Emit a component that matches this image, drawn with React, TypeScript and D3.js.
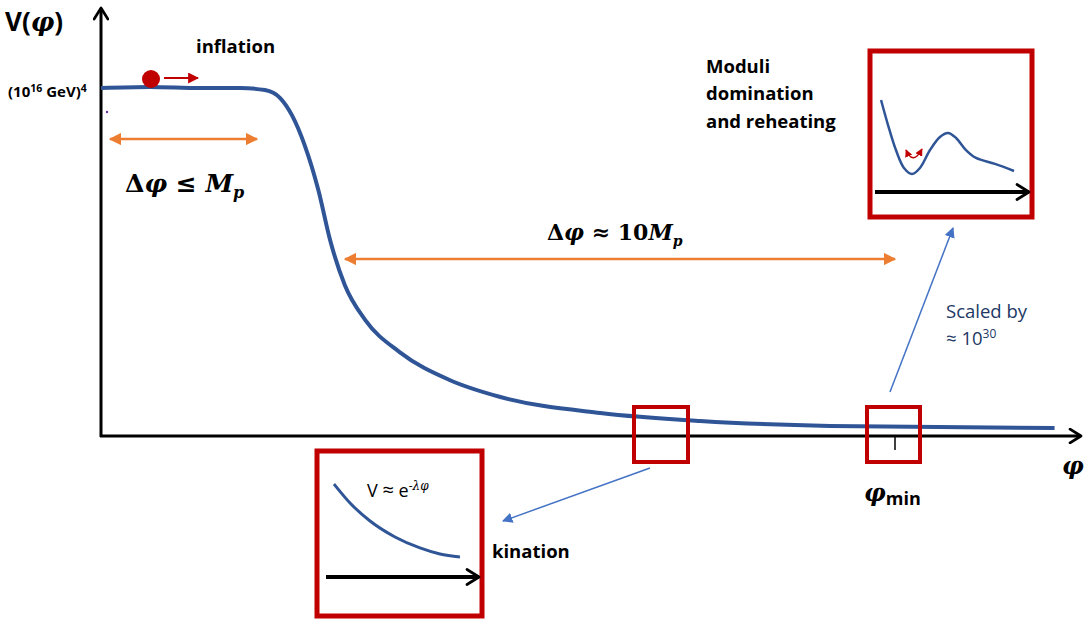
import React from 'react';
import * as d3 from 'd3';

// main potential V(phi), phi in arbitrary units, V in units of the plateau
const phi = [0, 5.0, 10.1, 14.2, 16.75, 18.3, 19.5, 20.8, 22.2, 23.4, 24.9, 27.0, 30.5, 35.6, 40.8, 51.0, 61.2, 74.5, 97.4];
const V = [1.0, 1.003, 1.0, 1.0, 0.994, 0.971, 0.922, 0.836, 0.707, 0.563, 0.434, 0.333, 0.241, 0.161, 0.112, 0.066, 0.043, 0.029, 0.023];

// moduli inset (zoomed around phi_min)
const modPhi = [0.39, 0.84, 1.35, 1.87, 2.39, 2.9, 3.55, 4.19, 4.71, 5.23, 5.87, 6.52, 7.74, 8.97];
const modV = [0.754, 0.549, 0.344, 0.197, 0.148, 0.197, 0.344, 0.451, 0.484, 0.443, 0.344, 0.279, 0.23, 0.172];

// kination inset
const kinPhi = [0.52, 1.56, 2.86, 4.48, 6.1, 7.4, 8.7];
const kinV = [0.845, 0.673, 0.509, 0.364, 0.264, 0.209, 0.182];

const BLUE = '#2F5597';
const RED = '#C00000';
const ORANGE = '#ED7D31';
const LINKBLUE = '#4472C4';
const SANS = '"Open Sans", Lato, sans-serif';
const MATH = '"DejaVu Serif", "Liberation Serif", serif';

export default function App() {
  const x = d3.scaleLinear().domain([0, 100]).range([101, 1080]);
  const y = d3.scaleLinear().domain([0, 1]).range([436, 88]);

  const mainLine = d3.line<number>()
    .x((d, i) => x(phi[i]))
    .y(d => y(d))
    .curve(d3.curveMonotoneX);

  const mx = d3.scaleLinear().domain([0, 10]).range([875, 1030]);
  const my = d3.scaleLinear().domain([0, 1]).range([192, 70]);
  const modLine = d3.line<number>()
    .x((d, i) => mx(modPhi[i]))
    .y(d => my(d))
    .curve(d3.curveCatmullRom);

  const kx = d3.scaleLinear().domain([0, 10]).range([326, 480]);
  const ky = d3.scaleLinear().domain([0, 1]).range([577, 467]);
  const kinLine = d3.line<number>()
    .x((d, i) => kx(kinPhi[i]))
    .y(d => ky(d))
    .curve(d3.curveMonotoneX);

  return (
    <svg width={1084} height={621} style={{ position: 'absolute', left: 0, top: 0, background: '#fff' }}>
      <defs>
        <marker id="orangeHead" viewBox="0 0 10 10" refX="9" refY="5" markerWidth="5" markerHeight="5" orient="auto-start-reverse" markerUnits="strokeWidth">
          <path d="M0,0 L10,5 L0,10 z" fill={ORANGE} />
        </marker>
        <marker id="redHead" viewBox="0 0 10 10" refX="9" refY="5" markerWidth="5" markerHeight="5" orient="auto-start-reverse" markerUnits="strokeWidth">
          <path d="M0,0 L10,5 L0,10 z" fill={RED} />
        </marker>
        <marker id="blueHead" viewBox="0 0 10 10" refX="9" refY="5" markerWidth="7" markerHeight="7" orient="auto" markerUnits="strokeWidth">
          <path d="M0,0 L10,5 L0,10 z" fill={LINKBLUE} />
        </marker>
        <marker id="chev" viewBox="0 0 12 12" refX="10" refY="6" markerWidth="5.5" markerHeight="5.5" orient="auto" markerUnits="strokeWidth">
          <path d="M2,1 L10,6 L2,11" fill="none" stroke="#000" strokeWidth="2" strokeLinecap="round" strokeLinejoin="round" />
        </marker>
        <marker id="chevS" viewBox="0 0 12 12" refX="10" refY="6" markerWidth="4.5" markerHeight="4.5" orient="auto" markerUnits="strokeWidth">
          <path d="M2,1 L10,6 L2,11" fill="none" stroke="#000" strokeWidth="1.8" strokeLinecap="round" strokeLinejoin="round" />
        </marker>
      </defs>

      {/* axes */}
      <line x1={101} y1={437} x2={101} y2={8} stroke="#000" strokeWidth={3} markerEnd="url(#chev)" />
      <line x1={100} y1={436} x2={1081} y2={436} stroke="#000" strokeWidth={3} markerEnd="url(#chev)" />

      <text x={5} y={31} fontFamily={SANS} fontWeight="bold" fontSize={26}>
        V(<tspan fontFamily={MATH} fontStyle="italic">φ</tspan>)
      </text>
      <text x={8} y={97} fontFamily={SANS} fontWeight="bold" fontSize={15}>
        (10<tspan fontSize={10.5} dy={-5}>16</tspan><tspan dy={5}> GeV)</tspan><tspan fontSize={10.5} dy={-5}>4</tspan>
      </text>
      <circle cx={107} cy={112} r={1.2} fill="#7030A0" />

      <text x={1062} y={474} fontFamily={MATH} fontWeight="bold" fontStyle="italic" fontSize={24}>φ</text>
      <text x={864} y={501} fontFamily={MATH} fontWeight="bold" fontStyle="italic" fontSize={24}>
        φ<tspan fontFamily={SANS} fontStyle="normal" fontSize={18} dy={4}>min</tspan>
      </text>
      <line x1={895} y1={437} x2={895} y2={450} stroke="#000" strokeWidth={1.5} />

      {/* potential */}
      <path d={mainLine(V) || ''} fill="none" stroke={BLUE} strokeWidth={4} />

      {/* inflaton ball */}
      <circle cx={151} cy={79} r={9} fill={RED} />
      <line x1={164} y1={78} x2={198} y2={78} stroke={RED} strokeWidth={2.2} markerEnd="url(#redHead)" />
      <text x={196} y={53} fontFamily={SANS} fontWeight="bold" fontSize={18.5}>inflation</text>

      {/* field ranges */}
      <line x1={110} y1={139} x2={257} y2={139} stroke={ORANGE} strokeWidth={2.5} markerStart="url(#orangeHead)" markerEnd="url(#orangeHead)" />
      <text x={125} y={192} fontFamily={MATH} fontWeight="bold" fontStyle="italic" fontSize={25}>
        <tspan fontStyle="normal">Δ</tspan>φ ≤ M<tspan fontSize={16} dy={6}>p</tspan>
      </text>
      <line x1={345} y1={259} x2={895} y2={259} stroke={ORANGE} strokeWidth={2.5} markerStart="url(#orangeHead)" markerEnd="url(#orangeHead)" />
      <text x={547} y={240} fontFamily={MATH} fontWeight="bold" fontStyle="italic" fontSize={22}>
        <tspan fontStyle="normal">Δ</tspan>φ ≈ <tspan fontStyle="normal">10</tspan>M<tspan fontSize={14} dy={6}>p</tspan>
      </text>

      {/* zoom boxes on the axis */}
      <rect x={634} y={407} width={54} height={55} fill="none" stroke={RED} strokeWidth={4} />
      <rect x={867} y={407} width={53} height={55} fill="none" stroke={RED} strokeWidth={4} />
      <line x1={650} y1={468} x2={503} y2={521} stroke={LINKBLUE} strokeWidth={1.5} markerEnd="url(#blueHead)" />
      <line x1={890} y1={392} x2={953} y2={228} stroke={LINKBLUE} strokeWidth={1.5} markerEnd="url(#blueHead)" />

      <text x={946} y={318} fontFamily={SANS} fontSize={18.5} fill="#203864">Scaled by</text>
      <text x={946} y={345} fontFamily={SANS} fontSize={18.5} fill="#203864">
        ≈ 10<tspan fontSize={12} dy={-7}>30</tspan>
      </text>

      {/* moduli inset */}
      <text fontFamily={SANS} fontWeight="bold" fontSize={18.5}>
        <tspan x={706} y={73}>Moduli</tspan>
        <tspan x={706} y={100}>domination</tspan>
        <tspan x={706} y={128}>and reheating</tspan>
      </text>
      <rect x={870} y={51} width={162} height={166} fill="none" stroke={RED} strokeWidth={5} />
      <path d={modLine(modV) || ''} fill="none" stroke={BLUE} strokeWidth={2.5} />
      <line x1={875} y1={192} x2={1029} y2={192} stroke="#000" strokeWidth={4} markerEnd="url(#chevS)" />
      <path d="M906,150 Q913,166 922,149" fill="none" stroke={RED} strokeWidth={1.5} markerStart="url(#redHead)" markerEnd="url(#redHead)" />

      {/* kination inset */}
      <rect x={317} y={451} width={165} height={165} fill="none" stroke={RED} strokeWidth={5} />
      <path d={kinLine(kinV) || ''} fill="none" stroke={BLUE} strokeWidth={3} />
      <line x1={326} y1={577} x2={479} y2={577} stroke="#000" strokeWidth={4} markerEnd="url(#chevS)" />
      <text x={367} y={497} fontFamily={SANS} fontSize={18}>
        V <tspan fontSize={20}>≈</tspan> e<tspan fontSize={12} dy={-7}>-</tspan><tspan fontSize={12} fontFamily={MATH} fontStyle="italic">λφ</tspan>
      </text>
      <text x={492} y={558} fontFamily={SANS} fontWeight="bold" fontSize={18.5}>kination</text>
    </svg>
  );
}
